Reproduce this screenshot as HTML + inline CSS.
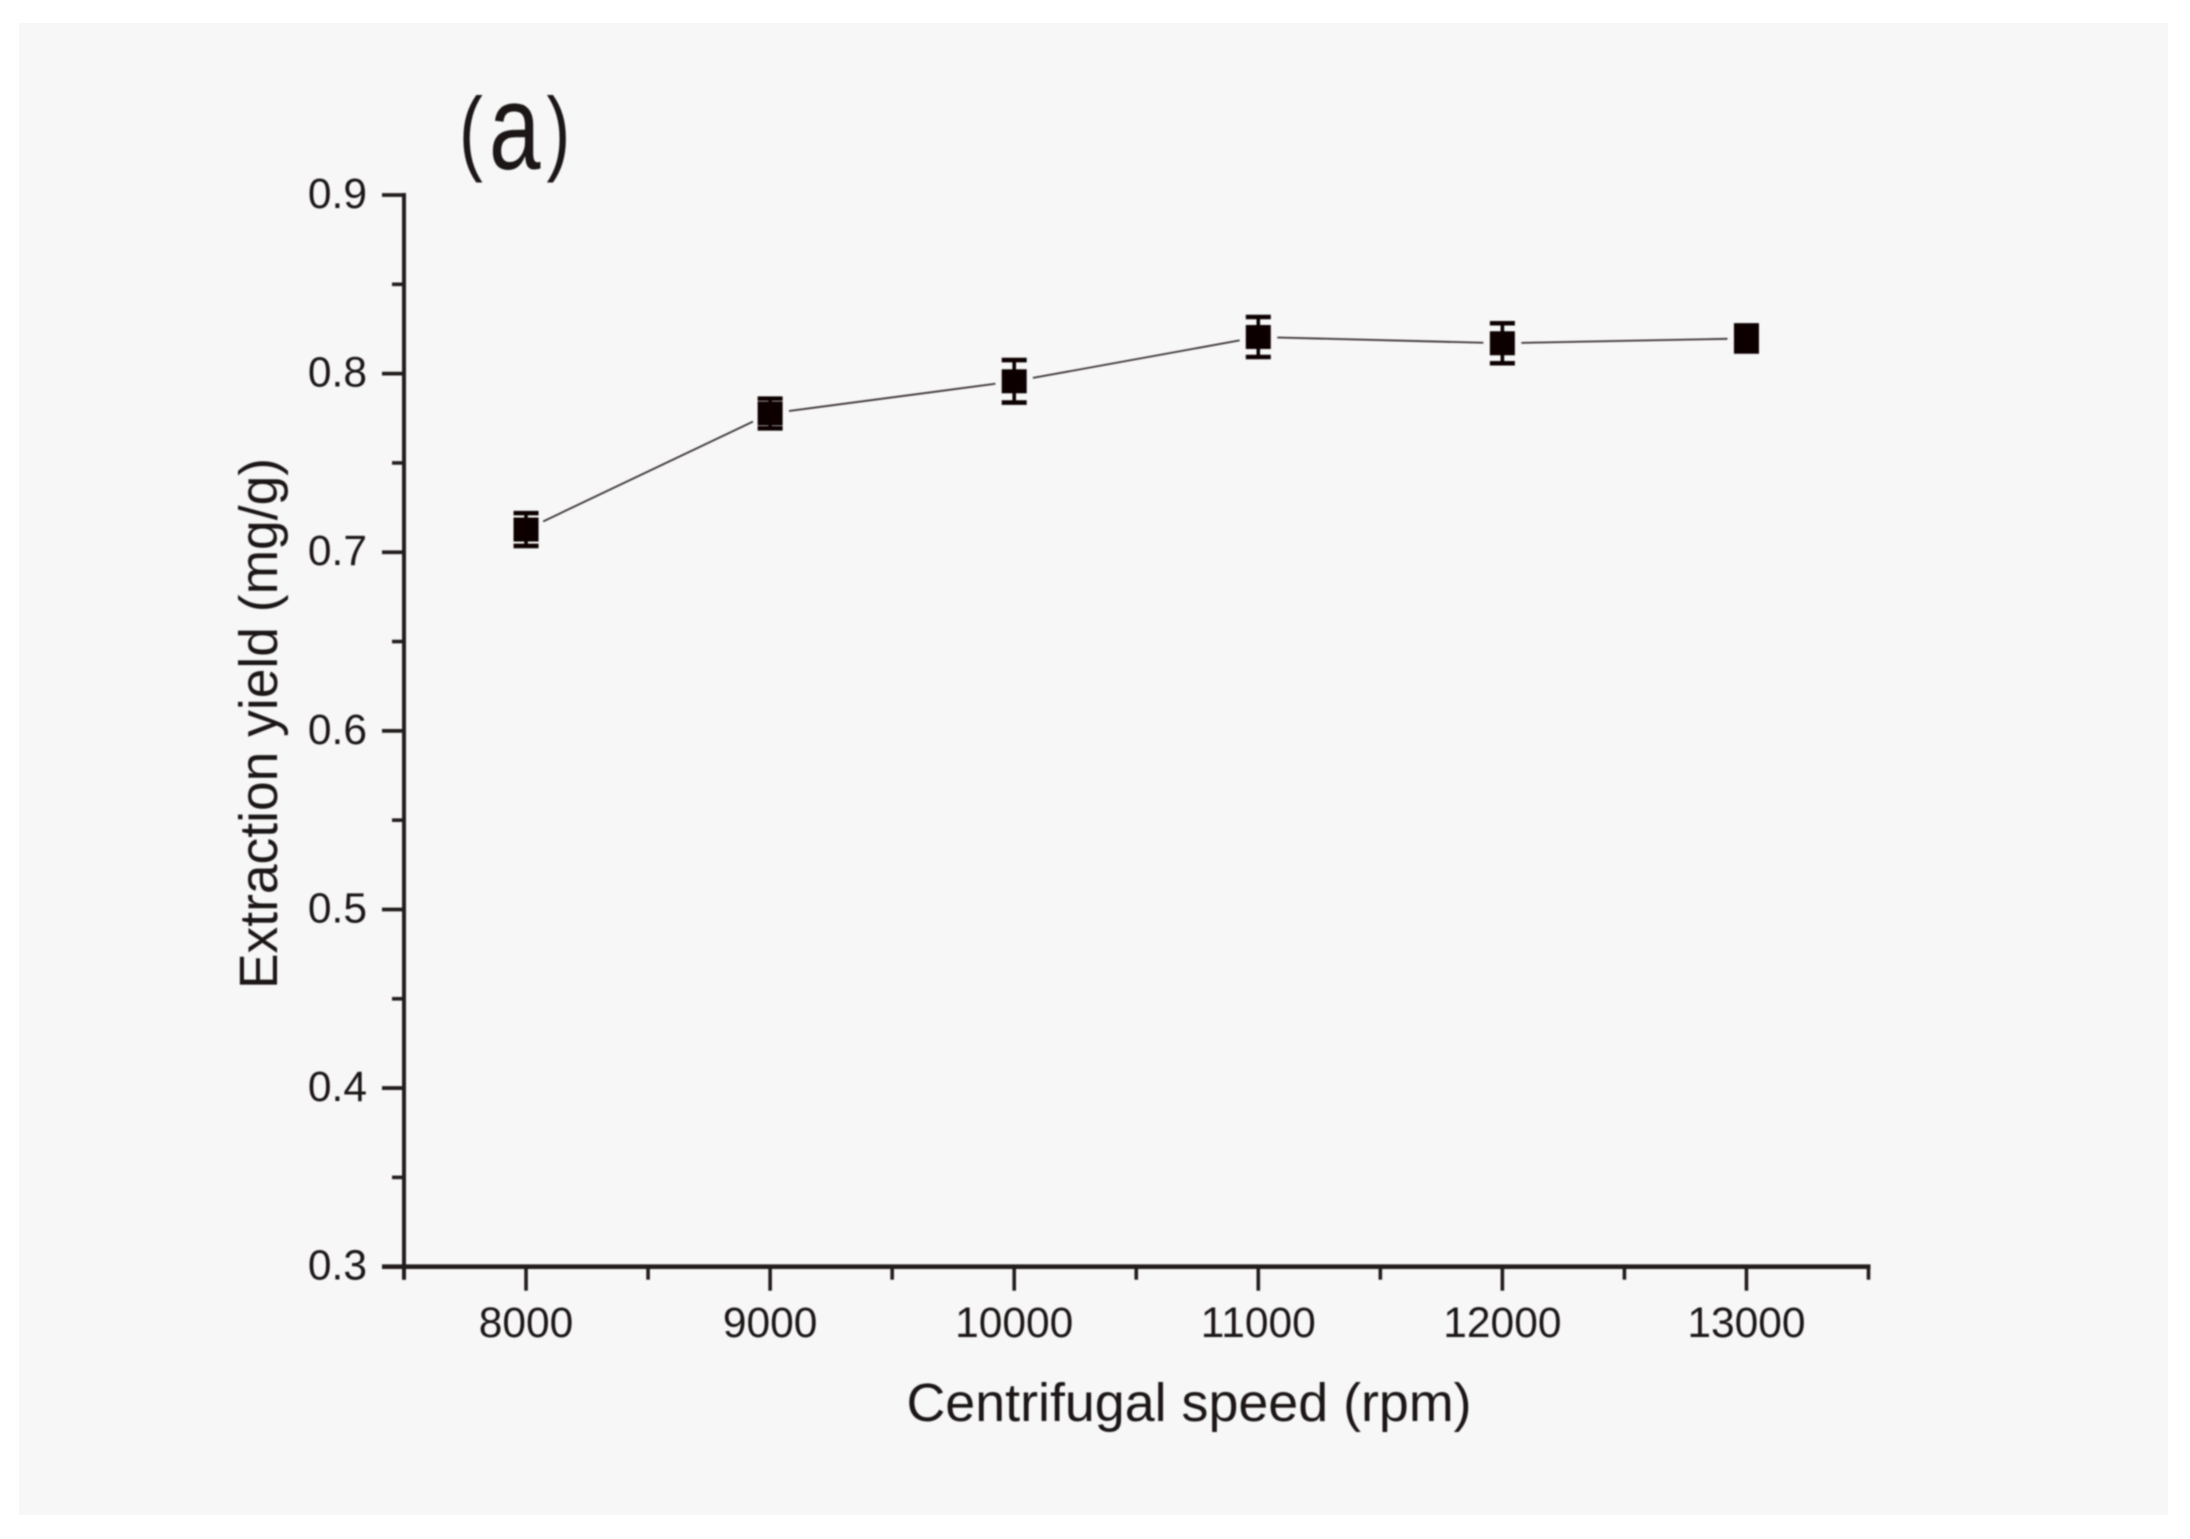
<!DOCTYPE html>
<html lang="en">
<head>
<meta charset="utf-8">
<title>Extraction yield vs centrifugal speed</title>
<style>
  html, body { margin: 0; padding: 0; background: #ffffff; }
  body { width: 2190px; height: 1539px; overflow: hidden; }
  svg { display: block; }
  text { font-family: "Liberation Sans", "DejaVu Sans", sans-serif; fill: #1c1517; }
</style>
</head>
<body>
<svg id="chart" xmlns="http://www.w3.org/2000/svg" width="2190" height="1539" viewBox="0 0 2190 1539">
  <defs>
    <filter id="soft" x="-5%" y="-5%" width="110%" height="110%"><feGaussianBlur stdDeviation="0.9"/></filter>
  </defs>
  <rect x="19" y="23" width="2149" height="1492" fill="#f7f7f7"/>
  <g id="plot" filter="url(#soft)">
    <text transform="translate(459,163) scale(0.76,1)" font-size="94"><tspan>(</tspan><tspan font-size="122" dx="8" dy="6">a</tspan><tspan dx="8" dy="-6">)</tspan></text>
    <text x="1189" y="1421" font-size="53.8" text-anchor="middle">Centrifugal speed (rpm)</text>
    <text transform="translate(277,723.5) rotate(-90)" font-size="53.4" text-anchor="middle">Extraction yield (mg/g)</text>
  </g>
</svg>
<script>
const categories = [8000, 9000, 10000, 11000, 12000, 13000];
const yieldValues = [0.7127, 0.7777, 0.7957, 0.8205, 0.817, 0.8197];
const errorValues = [0.0092, 0.0083, 0.0119, 0.0112, 0.0112, 0.0073];
const xTickLabels = ['8000', '9000', '10000', '11000', '12000', '13000'];
const xMinorTicks = [7500, 8500, 9500, 10500, 11500, 12500, 13500];
const yTickLabels = ['0.3', '0.4', '0.5', '0.6', '0.7', '0.8', '0.9'];
const yMinorTicks = [0.35, 0.45, 0.55, 0.65, 0.75, 0.85];

const xDomain = [7500, 13500];
const yDomain = [0.3, 0.9];
const plotBox = { left: 404, right: 1868.5, top: 195, bottom: 1266.7 };
const xScale = function (v) {
  return plotBox.left + (v - xDomain[0]) / (xDomain[1] - xDomain[0]) * (plotBox.right - plotBox.left);
};
const yScale = function (v) {
  return plotBox.bottom - (v - yDomain[0]) / (yDomain[1] - yDomain[0]) * (plotBox.bottom - plotBox.top);
};

const plot = document.getElementById('plot');
const svgNS = 'http://www.w3.org/2000/svg';
const axisColor = '#231a1b';

function makeLine(x1, y1, x2, y2, color, width) {
  const el = document.createElementNS(svgNS, 'line');
  el.setAttribute('x1', x1);
  el.setAttribute('y1', y1);
  el.setAttribute('x2', x2);
  el.setAttribute('y2', y2);
  el.setAttribute('stroke', color);
  el.setAttribute('stroke-width', width);
  plot.appendChild(el);
  return el;
}

function makeText(str, x, y, anchor) {
  const el = document.createElementNS(svgNS, 'text');
  el.setAttribute('x', x);
  el.setAttribute('y', y);
  el.setAttribute('font-size', 42.5);
  el.setAttribute('text-anchor', anchor);
  el.textContent = str;
  plot.appendChild(el);
  return el;
}

/* axes */
const yAxisLine = makeLine(plotBox.left, plotBox.top - 2, plotBox.left, plotBox.bottom + 13, axisColor, 4);


const xAxisLine = makeLine(plotBox.left - 22, plotBox.bottom, plotBox.right + 2, plotBox.bottom, axisColor, 4.6);



/* y ticks */
yTickLabels.forEach(function (label) {
  const v = parseFloat(label);
  const tick = makeLine(plotBox.left - 22, yScale(v), plotBox.left, yScale(v), axisColor, 3.8);
  
  
  const t = makeText(label, plotBox.left - 37, yScale(v) + 13, 'end');
  
  
});
yMinorTicks.forEach(function (v) {
  const tick = makeLine(plotBox.left - 12, yScale(v), plotBox.left, yScale(v), axisColor, 3.6);
  
  
});

/* x ticks */
xTickLabels.forEach(function (label) {
  const v = parseFloat(label);
  const tick = makeLine(xScale(v), plotBox.bottom, xScale(v), plotBox.bottom + 24, axisColor, 3.6);
  
  
  const t = makeText(label, xScale(v), 1337, 'middle');
  
  
});
xMinorTicks.forEach(function (v) {
  const tick = makeLine(xScale(v), plotBox.bottom, xScale(v), plotBox.bottom + 13, axisColor, 3.6);
  
  
});

/* connecting line segments, with a gap around each marker */
const markerGap = 19;
for (let i = 0; i < categories.length - 1; i++) {
  const ax = xScale(categories[i]);
  const ay = yScale(yieldValues[i]);
  const bx = xScale(categories[i + 1]);
  const by = yScale(yieldValues[i + 1]);
  const len = Math.hypot(bx - ax, by - ay);
  const ux = (bx - ax) / len;
  const uy = (by - ay) / len;
  const seg = makeLine(ax + ux * markerGap, ay + uy * markerGap, bx - ux * markerGap, by - uy * markerGap, '#3a3334', 1.8);
  
  
}

/* error bars and markers */
const markerColor = '#0c0203';
categories.forEach(function (c, i) {
  const cx = xScale(c);
  const cy = yScale(yieldValues[i]);
  const top = yScale(yieldValues[i] + errorValues[i]);
  const bottom = yScale(yieldValues[i] - errorValues[i]);

  const stem = makeLine(cx, top, cx, bottom, markerColor, 3.6);
  
  

  const capTop = makeLine(cx - 12.5, top, cx + 12.5, top, markerColor, 4.6);
  
  

  const capBottom = makeLine(cx - 12.5, bottom, cx + 12.5, bottom, markerColor, 4.6);
  
  

  const marker = document.createElementNS(svgNS, 'rect');
  marker.setAttribute('x', cx - 12.5);
  marker.setAttribute('y', cy - 12);
  marker.setAttribute('width', 25);
  marker.setAttribute('height', 24);
  marker.setAttribute('fill', markerColor);
  
  
  plot.appendChild(marker);
});
</script>
</body>
</html>
